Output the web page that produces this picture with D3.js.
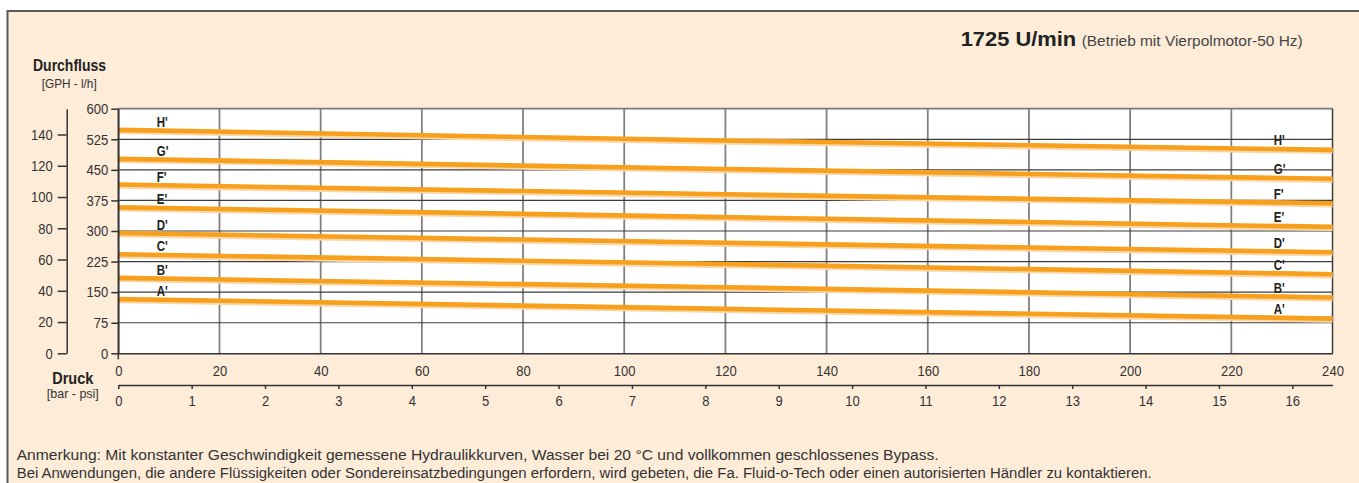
<!DOCTYPE html>
<html><head><meta charset="utf-8">
<script src="https://cdn.jsdelivr.net/npm/d3@7"></script>
<style>
html,body{margin:0;padding:0;background:#fff;}
svg{display:block;}
</style></head>
<body>
<svg id="c" width="1359" height="483"></svg>
<script>
// ---- data ----
const psiPoints = [0, 120, 240];
const seriesA = [133, 109, 85];
const seriesB = [185, 162, 137];
const seriesC = [243, 219, 194];
const seriesD = [295, 271, 248];
const seriesE = [358, 334, 310];
const seriesF = [414, 390, 368];
const seriesG = [477, 452, 428];
const seriesH = [548, 522, 499];
const seriesNames = ["A'", "B'", "C'", "D'", "E'", "F'", "G'", "H'"];
const lphTicks = [0, 75, 150, 225, 300, 375, 450, 525, 600];
const gphTicks = [0, 20, 40, 60, 80, 100, 120, 140];
const psiTicks = [0, 20, 40, 60, 80, 100, 120, 140, 160, 180, 200, 220, 240];
const barTicks = [0,1,2,3,4,5,6,7,8,9,10,11,12,13,14,15,16];
const titleBold = "1725 U/min";
const titleRest = "(Betrieb mit Vierpolmotor-50 Hz)";
const noteLines = [
  "Anmerkung: Mit konstanter Geschwindigkeit gemessene Hydraulikkurven, Wasser bei 20 °C und vollkommen geschlossenes Bypass.",
  "Bei Anwendungen, die andere Flüssigkeiten oder Sondereinsatzbedingungen erfordern, wird gebeten, die Fa. Fluid-o-Tech oder einen autorisierten Händler zu kontaktieren."
];
const allSeries = [seriesA, seriesB, seriesC, seriesD, seriesE, seriesF, seriesG, seriesH];

// ---- layout ----
const W = 1359, H = 483;
const L = 118.3, R = 1332.5, T = 108.7, B = 353.3;
const SANS = "'Liberation Sans',Arial,sans-serif";
const ORANGE = "#f7a01e";
const PEACH = "#fdecd8";

// simulate condensed type by compressing glyphs horizontally
function condense(sel, factor) {
  sel.each(function () {
    const w = this.getComputedTextLength();
    d3.select(this).attr("textLength", w * factor).attr("lengthAdjust", "spacingAndGlyphs");
  });
}
function fitWidth(sel, width) {
  sel.attr("textLength", width).attr("lengthAdjust", "spacingAndGlyphs");
}

const svg = d3.select("#c");
// frame
svg.append("rect").attr("x", 7.5).attr("y", 11).attr("width", W + 20).attr("height", H + 20)
  .attr("fill", PEACH).attr("stroke", "#5a5a5a").attr("stroke-width", 2);

const x = d3.scaleLinear().domain([0, 240]).range([L, R]);
const y = d3.scaleLinear().domain([0, 600]).range([B, T]);
const yG = d3.scaleLinear().domain([0, 156.5]).range([B, T]);
const xBar = d3.scaleLinear().domain([0, 240 / 14.5038]).range([L, R]);

// plot background
svg.append("rect").attr("x", L).attr("y", T).attr("width", R - L).attr("height", B - T).attr("fill", "#fff");

// vertical grid
svg.append("g").selectAll("line").data(psiTicks.filter(d => d > 0 && d < 240)).join("line")
  .attr("x1", d => x(d)).attr("x2", d => x(d)).attr("y1", T).attr("y2", B)
  .attr("stroke", "#808080").attr("stroke-width", 1.8);
// horizontal grid
svg.append("g").selectAll("line").data(lphTicks.filter(d => d > 0 && d < 600)).join("line")
  .attr("x1", L).attr("x2", R).attr("y1", d => y(d)).attr("y2", d => y(d))
  .attr("stroke", "#3c3c3c").attr("stroke-width", 1.2);
// top border
svg.append("line").attr("x1", L).attr("x2", R).attr("y1", T).attr("y2", T).attr("stroke", "#7a7a7a").attr("stroke-width", 1.8);
// right border
svg.append("line").attr("x1", R).attr("x2", R).attr("y1", T).attr("y2", B).attr("stroke", "#3c3c3c").attr("stroke-width", 1.5);

// curves
const line = d3.line().x((d, i) => x(psiPoints[i])).y(d => y(d));
const curves = svg.append("g");
allSeries.forEach(s => {
  curves.append("path").attr("d", line(s)).attr("fill", "none")
    .attr("stroke", "#fbd6a6").attr("stroke-width", 6).attr("transform", "translate(0,1.2)");
  curves.append("path").attr("d", line(s)).attr("fill", "none")
    .attr("stroke", ORANGE).attr("stroke-width", 4.6);
});
// curve labels
const valAt = (s, p) => {
  const i = p <= 120 ? 0 : 1;
  const t = (p - psiPoints[i]) / (psiPoints[i + 1] - psiPoints[i]);
  return s[i] + (s[i + 1] - s[i]) * t;
};
const labG = svg.append("g").attr("font-family", SANS).attr("font-weight", "bold").attr("font-size", 14).attr("fill", "#222");
allSeries.forEach((s, k) => {
  [7.6, 228.4].forEach(p => {
    labG.append("text").attr("x", x(p)).attr("y", y(valAt(s, p)) - 3.5).text(seriesNames[k]);
  });
});
condense(labG.selectAll("text"), 0.82);

function styleAxis(g, fs) {
  g.select(".domain").attr("stroke", "#333").attr("stroke-width", 1.5);
  g.selectAll(".tick line").attr("stroke", "#333").attr("stroke-width", 1.5);
  g.selectAll("text").attr("font-family", SANS).attr("font-size", fs).attr("fill", "#333");
  condense(g.selectAll("text"), 0.87);
}

// left l/h axis
const axL = svg.append("g").attr("transform", `translate(${L},0)`)
  .call(d3.axisLeft(y).tickValues(lphTicks).tickSize(7).tickSizeOuter(0).tickPadding(3));
styleAxis(axL, 15);

// GPH axis
const axG = svg.append("g").attr("transform", `translate(66.7,0)`)
  .call(d3.axisLeft(yG).tickValues(gphTicks).tickSize(9).tickSizeOuter(0).tickPadding(5));
styleAxis(axG, 15);

// bottom psi axis
const axP = svg.append("g").attr("transform", `translate(0,${B})`)
  .call(d3.axisBottom(x).tickValues(psiTicks).tickSize(0).tickPadding(12));
styleAxis(axP, 15);
svg.append("line").attr("x1", L).attr("x2", L).attr("y1", T).attr("y2", B + 6).attr("stroke", "#333").attr("stroke-width", 1.5);

// bar axis
const axB = svg.append("g").attr("transform", `translate(0,385)`)
  .call(d3.axisBottom(xBar).tickValues(barTicks).tickSize(4).tickSizeOuter(0).tickPadding(6));
styleAxis(axB, 15);

// axis titles
const tDurch = svg.append("text").attr("x", 69.5).attr("y", 70.7).attr("text-anchor", "middle")
  .attr("font-family", SANS).attr("font-weight", "bold").attr("font-size", 16).attr("fill", "#222").text("Durchfluss");
fitWidth(tDurch, 73);
const tGph = svg.append("text").attr("x", 69.2).attr("y", 88).attr("text-anchor", "middle")
  .attr("font-family", SANS).attr("font-size", 12.5).attr("fill", "#333").text("[GPH - l/h]");
fitWidth(tGph, 55);
const tDruck = svg.append("text").attr("x", 72.8).attr("y", 384).attr("text-anchor", "middle")
  .attr("font-family", SANS).attr("font-weight", "bold").attr("font-size", 16).attr("fill", "#222").text("Druck");
fitWidth(tDruck, 41);
const tBar = svg.append("text").attr("x", 72.8).attr("y", 398.3).attr("text-anchor", "middle")
  .attr("font-family", SANS).attr("font-size", 12.5).attr("fill", "#333").text("[bar - psi]");
fitWidth(tBar, 52);

// title
const t1 = svg.append("text").attr("x", 960.7).attr("y", 46).attr("fill", "#222")
  .attr("font-family", SANS).attr("font-weight", "bold").attr("font-size", 19.5).text(titleBold);
fitWidth(t1, 115.5);
const t2 = svg.append("text").attr("x", 1081.7).attr("y", 46).attr("fill", "#444")
  .attr("font-family", SANS).attr("font-size", 15.5).text(titleRest);
fitWidth(t2, 221);

// notes
const notes = svg.append("g").selectAll("text").data(noteLines).join("text")
  .attr("x", 16.7).attr("y", (d, i) => 460 + i * 18.3)
  .attr("font-family", SANS).attr("font-size", 14).attr("fill", "#333").text(d => d);
fitWidth(notes.filter((d, i) => i === 0), 922);
fitWidth(notes.filter((d, i) => i === 1), 1135);
</script>
</body></html>
